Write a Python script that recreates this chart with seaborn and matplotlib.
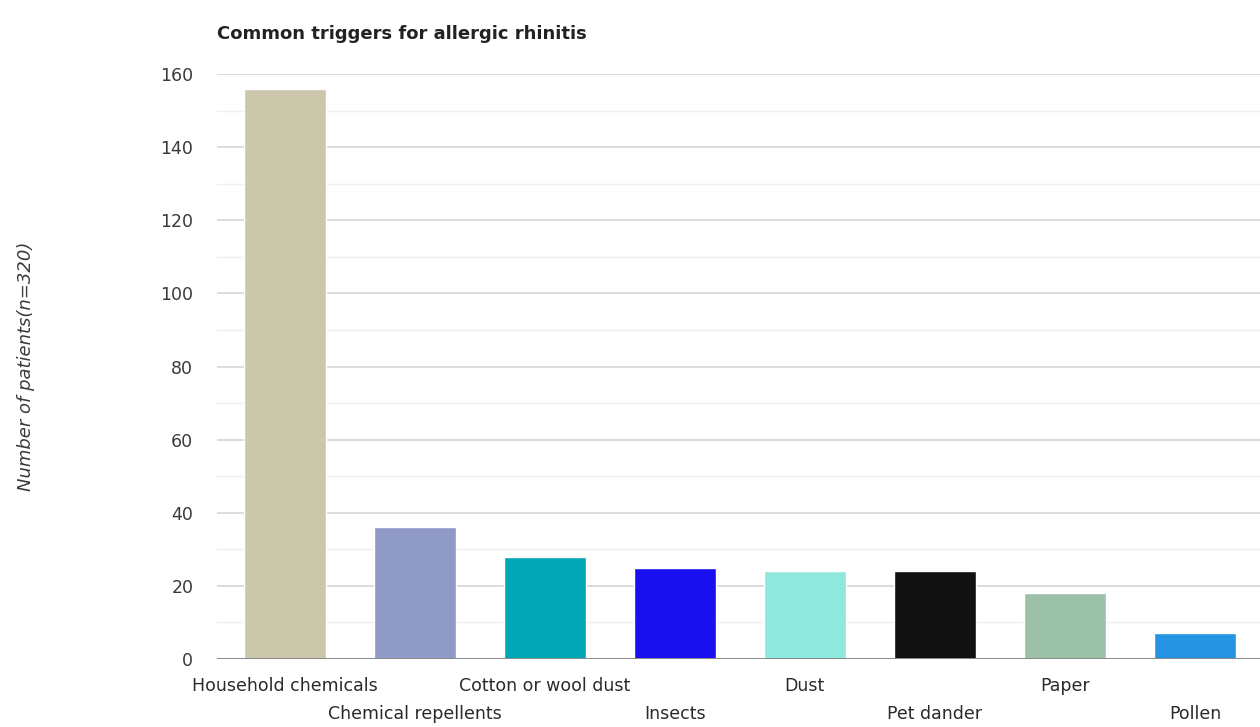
import matplotlib
matplotlib.use("Agg")
import matplotlib.pyplot as plt
import seaborn as sns
import pandas as pd

# Allergic rhinitis trigger counts (patients, n=320)
triggers = ["Household chemicals", "Chemical repellents", "Cotton or wool dust",
            "Insects", "Dust", "Pet dander", "Paper", "Pollen"]
patients = [156, 36, 28, 25, 24, 24, 18, 7]
bar_colors = ["#CBC7AA", "#8F9AC6", "#00A6B4", "#1A0FEE",
              "#8FE8DD", "#111111", "#9BC1A8", "#2595E3"]
y_ticks = [0, 20, 40, 60, 80, 100, 120, 140, 160]

df = pd.DataFrame({"trigger": triggers, "patients": patients})

sns.set_theme(style="white")
plt.rcParams["font.family"] = ["DejaVu Sans"]

fig = plt.figure(figsize=(12.6, 7.27), dpi=100)
ax = fig.add_axes([0.1722, 0.0935, 0.8278, 0.8045])

sns.barplot(data=df, x="trigger", y="patients", hue="trigger",
            palette=bar_colors, dodge=False, legend=False,
            width=0.63, saturation=1, ax=ax, zorder=3)

ax.set_xlim(-0.52, 7.5)
ax.set_ylim(0, 160)

# gridlines: major every 20, faint minor every 10
ax.set_yticks(y_ticks)
ax.set_yticks(list(range(10, 160, 20)), minor=True)
ax.yaxis.grid(True, which="major", color="#d4d4d4", linewidth=1.2, zorder=0)
ax.yaxis.grid(True, which="minor", color="#efefef", linewidth=1.0, zorder=0)
ax.set_axisbelow(True)
ax.axhline(0, color="#8a8a8a", linewidth=1.4, zorder=4)

for s in ax.spines.values():
    s.set_visible(False)

ax.tick_params(axis="y", length=0, pad=17, labelsize=12.5, labelcolor="#3a3a3a")
ax.tick_params(axis="x", length=0, labelsize=12.5, labelcolor="#2a2a2a")

# stagger category labels on two rows
for i, tick in enumerate(ax.xaxis.get_major_ticks()):
    tick.set_pad(13 if i % 2 == 0 else 33)

ax.set_xlabel("")
ax.set_ylabel("Number of patients(n=320)", fontsize=13, style="italic",
              color="#3a3a3a", labelpad=0)
ax.yaxis.set_label_coords(-0.174, 0.5)

fig.text(0.172, 0.953, "Common triggers for allergic rhinitis",
         fontsize=13, fontweight="bold", color="#222222",
         ha="left", va="center")

fig.savefig("out.png", dpi=100, facecolor="white")
